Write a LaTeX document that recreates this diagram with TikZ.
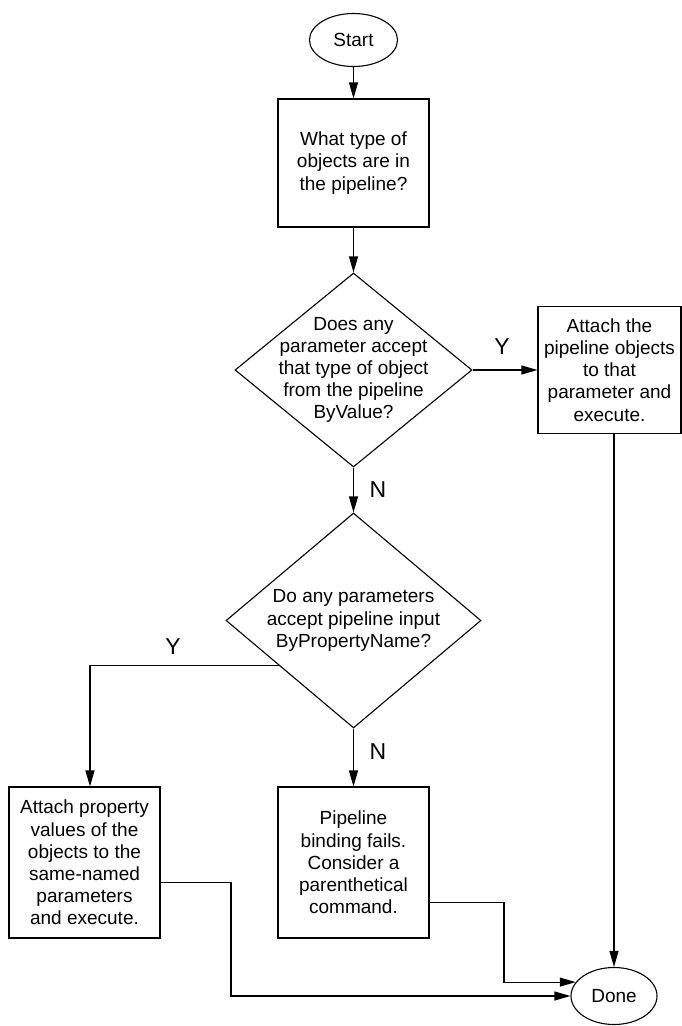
\documentclass[tikz,border=0pt]{standalone}
\usepackage{fontspec}
\setmainfont{Liberation Sans}
\usepackage{tikz}
\usetikzlibrary{shapes.geometric,arrows.meta,calc}
\def\flowfont{\fontsize{19}{22.2}\selectfont}

\begin{document}
\begin{tikzpicture}[x=1pt,y=-1pt,line width=1.1pt,
  terminal/.style={draw,ellipse,inner sep=0pt,font=\flowfont},
  process/.style={draw,rectangle,align=center,inner sep=0pt,minimum width=151pt,minimum height=128pt,font=\flowfont},
  decision/.style={draw,diamond,inner sep=0pt},
  flowtext/.style={align=center,font=\flowfont},
  answer/.style={font=\fontsize{23}{26}\selectfont},
  flow/.style={-{Triangle[length=16pt,width=9pt]}}]
\useasboundingbox (0,0) rectangle (682,1026);
% shapes
\node (start) at (353.5,40) [terminal,minimum width=88pt,minimum height=53pt] {Start};
\node (q1) at (353.5,163) [process] {What type of\\objects are in\\the pipeline?};
\node (d1) at (353.5,370) [decision,minimum width=237pt,minimum height=194pt] {};
\node (d1text) at (d1) [flowtext] {Does any\\parameter accept\\that type of object\\from the pipeline\\ByValue?};
\node (act1) at (609.5,370) [process,minimum width=143pt,minimum height=127pt] {Attach the\\pipeline objects\\to that\\parameter and\\execute.};
\node (d2) at (353.5,620.5) [decision,minimum width=255pt,minimum height=215pt] {};
\node (d2text) at (d2) [flowtext] {Do any parameters\\accept pipeline input\\ByPropertyName?};
\node (act2) at (84.5,862.5) [process,minimum height=151pt] {Attach property\\values of the\\objects to the\\same-named\\parameters\\and execute.};
\node (fail) at (353.5,862.5) [process,minimum height=151pt] {Pipeline\\binding fails.\\Consider a\\parenthetical\\command.};
\node (done) at (614,996) [terminal,minimum width=86pt,minimum height=57pt] {Done};
% lanes
\coordinate (lane0) at (90,0);
\coordinate (lane1) at (231,0);
\coordinate (lane2) at (504,0);
\coordinate (yexit) at ($(d2.west)!0.42!(d2.south)$);
% arrows
\draw[flow] (start) -- (q1);
\draw[flow] (q1) -- (d1);
\draw[flow] (d1) -- (act1);
\draw[flow] (d1) -- (d2);
\draw[flow] (d2) -- (fail);
\draw[flow] (yexit) -| (lane0 |- act2.north);
\draw[flow] (act1.south -| done.north) -- (done.north);
\draw[flow] ([yshift=-40pt]fail.east) -| (lane2 |- done.160) -- (done.160);
\draw[flow] ([yshift=-20pt]act2.east) -| (lane1 |- done.west) -- (done.west);
% answers
\node (yes1) at (502,347) [answer] {Y};
\node (no1) at (378,490) [answer] {N};
\node (yes2) at (173,647) [answer] {Y};
\node (no2) at (378,752) [answer] {N};
\end{tikzpicture}
\end{document}
